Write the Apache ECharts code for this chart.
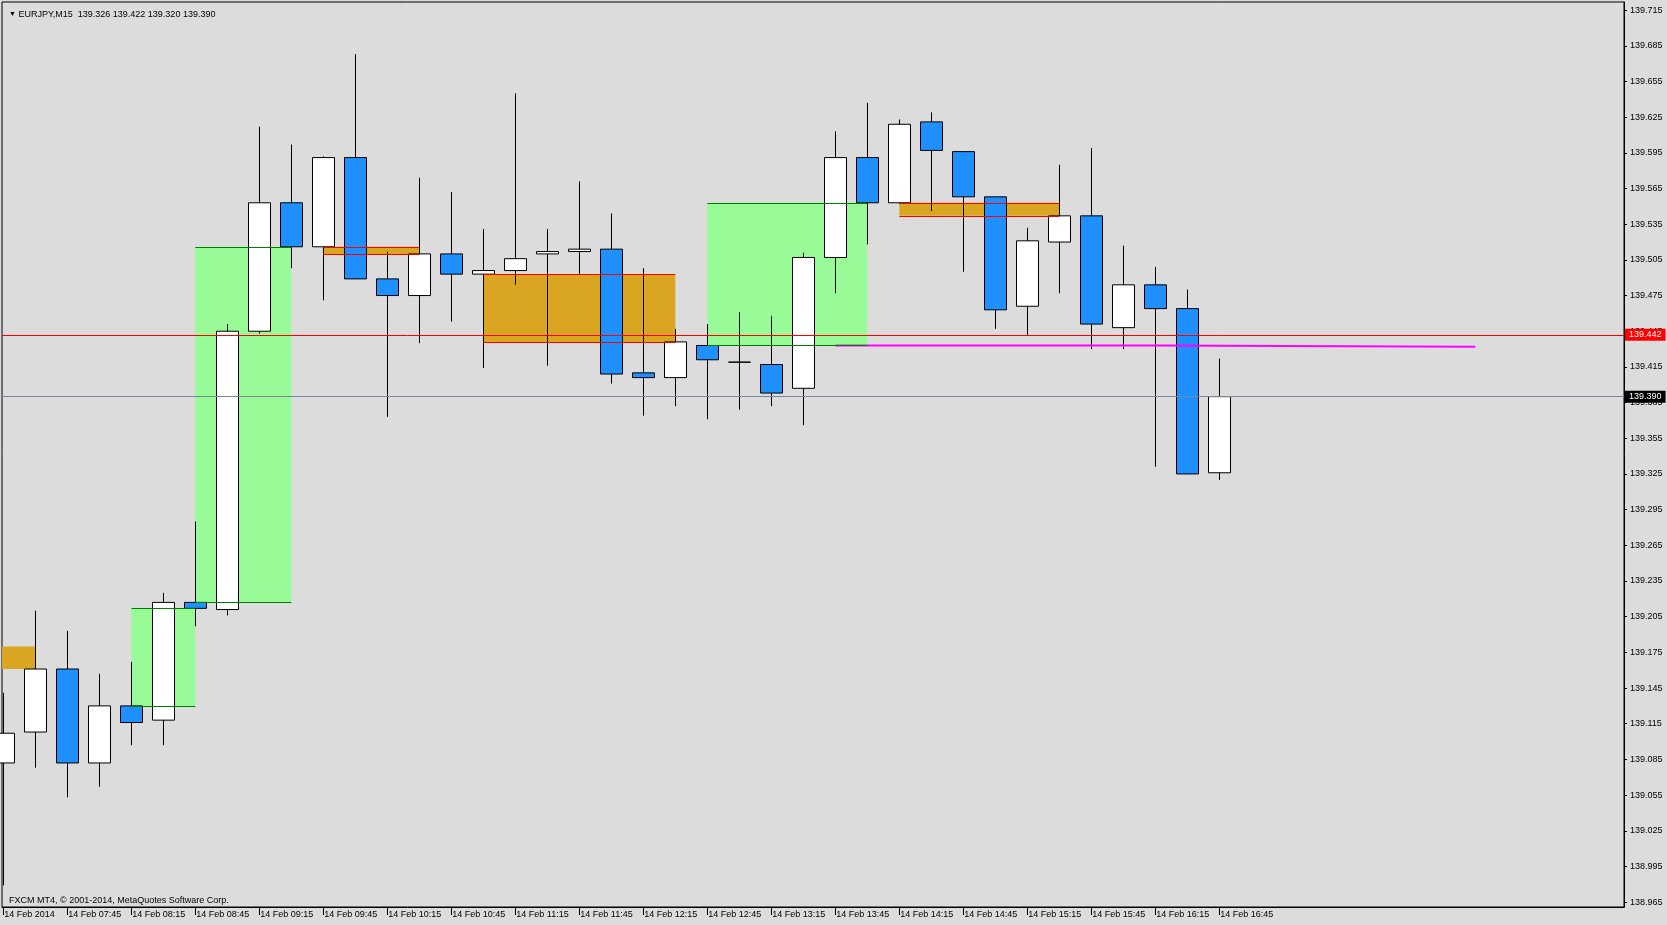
<!DOCTYPE html>
<html><head><meta charset="utf-8">
<script src="https://cdn.jsdelivr.net/npm/echarts@6/dist/echarts.min.js"></script>
<style>html,body{margin:0;padding:0;background:#DCDCDC;}#c{width:1667px;height:925px;}</style>
</head><body><div id="c"></div>
<script>
// ---------- data ----------
const symbolName = 'EURJPY';
const timeframe = 'M15';
const copyrightText = 'FXCM MT4, \u00A9 2001-2014, MetaQuotes Software Corp.';
const barIndex = [0,1,2,3,4,5,6,7,8,9,10,11,12,13,14,15,16,17,18,19,20,21,22,23,24,25,26,27,28,29,30,31,32,33,34,35,36,37,38];
const opens  = [139.082,139.108,139.161,139.082,139.130,139.118,139.217,139.211,139.445,139.553,139.516,139.591,139.489,139.475,139.510,139.493,139.496,139.510,139.512,139.514,139.410,139.406,139.433,139.419,139.417,139.397,139.507,139.591,139.553,139.621,139.596,139.558,139.466,139.520,139.542,139.448,139.484,139.464,139.326];
const highs  = [139.141,139.210,139.193,139.157,139.167,139.225,139.285,139.451,139.617,139.602,139.592,139.678,139.512,139.574,139.562,139.531,139.645,139.531,139.571,139.544,139.498,139.447,139.451,139.461,139.458,139.511,139.613,139.637,139.623,139.629,139.596,139.558,139.532,139.585,139.599,139.517,139.499,139.480,139.422];
const lows   = [138.979,139.078,139.053,139.062,139.097,139.097,139.197,139.206,139.443,139.498,139.471,139.489,139.373,139.435,139.453,139.414,139.484,139.416,139.493,139.401,139.374,139.382,139.371,139.379,139.382,139.366,139.477,139.518,139.552,139.546,139.495,139.447,139.442,139.477,139.430,139.430,139.331,139.325,139.320];
const closes = [139.107,139.161,139.082,139.130,139.116,139.217,139.212,139.445,139.553,139.516,139.591,139.489,139.475,139.510,139.493,139.496,139.506,139.512,139.514,139.409,139.406,139.436,139.421,139.419,139.393,139.507,139.591,139.553,139.619,139.597,139.558,139.463,139.521,139.542,139.451,139.484,139.464,139.325,139.390];

const timeLabelIndex = [0,2,4,6,8,10,12,14,16,18,20,22,24,26,28,30,32,34,36,38];
const timeLabels = ['14 Feb 2014','14 Feb 07:45','14 Feb 08:15','14 Feb 08:45','14 Feb 09:15','14 Feb 09:45','14 Feb 10:15','14 Feb 10:45','14 Feb 11:15','14 Feb 11:45','14 Feb 12:15','14 Feb 12:45','14 Feb 13:15','14 Feb 13:45','14 Feb 14:15','14 Feb 14:45','14 Feb 15:15','14 Feb 15:45','14 Feb 16:15','14 Feb 16:45'];
const priceTicks = [138.965,138.995,139.025,139.055,139.085,139.115,139.145,139.175,139.205,139.235,139.265,139.295,139.325,139.355,139.385,139.415,139.445,139.475,139.505,139.535,139.565,139.595,139.625,139.655,139.685,139.715];

// zones: [startBar, endBar, topPrice, bottomPrice]
const supplyZones = [[-1,1,139.180,139.161],[10,13,139.516,139.510],[15,21,139.493,139.436],[28,33,139.553,139.542]];
const demandZones = [[4,6,139.212,139.130],[6,9,139.516,139.217],[22,27,139.553,139.433]];
const levelPrice = 139.442;
const bidPrice = 139.390;
const magentaPoints = [[26,139.433],[36,139.433],[36,139.432],[46,139.432]];

// ---------- chart ----------
const FONT = 'Liberation Sans, Arial, sans-serif';
const chart = echarts.init(document.getElementById('c'), null, {renderer:'canvas'});
const last = barIndex.length - 1;
const ohlcText = [opens[last], highs[last], lows[last], closes[last]].map(v => v.toFixed(3)).join(' ');

const candleData = barIndex.map((i, k) => [i, opens[k], closes[k], lows[k], highs[k]]);

const areaData = [];
const edgeLines = [];
supplyZones.forEach(z => {
  areaData.push([{coord:[z[0], z[2]], itemStyle:{color:'#DAA520'}}, {coord:[z[1], z[3]]}]);
  edgeLines.push([{coord:[z[0], z[2]], lineStyle:{color:'#FF0000'}}, {coord:[z[1], z[2]]}]);
  edgeLines.push([{coord:[z[0], z[3]], lineStyle:{color:'#FF0000'}}, {coord:[z[1], z[3]]}]);
});
demandZones.forEach(z => {
  areaData.push([{coord:[z[0], z[2]], itemStyle:{color:'#98FB98'}}, {coord:[z[1], z[3]]}]);
  edgeLines.push([{coord:[z[0], z[2]], lineStyle:{color:'#008000'}}, {coord:[z[1], z[2]]}]);
  edgeLines.push([{coord:[z[0], z[3]], lineStyle:{color:'#008000'}}, {coord:[z[1], z[3]]}]);
});

const priceBoxLabel = (bg, v) => ({
  show: true, position: 'end', distance: 1,
  formatter: () => v.toFixed(3),
  color: '#FFFFFF', backgroundColor: bg, padding: [2, 4, 1, 4],
  fontSize: 9, fontFamily: FONT
});

const option = {
  animation: false,
  backgroundColor: '#DCDCDC',
  title: [
    { text: '{tri|\u25BC} ' + symbolName + ',' + timeframe + '  ' + ohlcText, left: 4, top: 5,
      textStyle: { fontSize: 9, fontWeight: 'normal', color: '#000', fontFamily: FONT,
        rich: { tri: { fontSize: 7, color: '#000' } } } },
    { text: copyrightText, left: 4, top: 891,
      textStyle: { fontSize: 9, fontWeight: 'normal', color: '#000', fontFamily: FONT } }
  ],
  grid: { left: 2, right: 43, top: 2, bottom: 18, show: true, borderColor: '#000', borderWidth: 1, backgroundColor: 'transparent' },
  xAxis: {
    type: 'value', min: -0.0406, max: 50.647,
    axisLine: { show: true, onZero: false, lineStyle: { color: '#000', width: 1 } },
    splitLine: { show: false },
    axisTick: { show: true, customValues: timeLabelIndex, length: 8, lineStyle: { color: '#000' } },
    axisLabel: { customValues: timeLabelIndex, formatter: v => timeLabels[timeLabelIndex.indexOf(Math.round(v))],
      align: 'left', margin: 3, padding: [0,0,0,1], fontSize: 9, color: '#000', fontFamily: FONT }
  },
  yAxis: {
    type: 'value', position: 'right', min: 138.9609, max: 139.7218, scale: true,
    axisLine: { show: true, onZero: false, lineStyle: { color: '#000', width: 1 } },
    splitLine: { show: false },
    axisTick: { show: true, customValues: priceTicks, length: 3, lineStyle: { color: '#000' } },
    axisLabel: { customValues: priceTicks, formatter: v => v.toFixed(3), margin: 6, fontSize: 9, color: '#000', fontFamily: FONT }
  },
  series: [
    {
      type: 'line', data: [], z: 1, silent: true,
      markArea: { silent: true, data: areaData },
      markLine: {
        silent: true, symbol: ['none','none'], animation: false, precision: 3,
        lineStyle: { type: 'solid', width: 1 },
        label: { show: false },
        data: edgeLines.concat([
          { yAxis: levelPrice, lineStyle: { color: '#FF0000', type: 'solid', width: 1 }, label: priceBoxLabel('#FF0000', levelPrice) },
          { yAxis: bidPrice, lineStyle: { color: '#778899', type: 'solid', width: 1 }, label: priceBoxLabel('#000000', bidPrice) }
        ])
      }
    },
    {
      type: 'candlestick', z: 2, data: candleData,
      encode: { x: 0, y: [1, 2, 3, 4] },
      barWidth: 23,
      itemStyle: { color: '#FFFFFF', color0: '#1E90FF', borderColor: '#000000', borderColor0: '#000000', borderColorDoji: '#000000', borderWidth: 1 }
    },
    {
      type: 'line', z: 3, data: magentaPoints, symbol: 'none', silent: true,
      lineStyle: { color: '#FF00FF', width: 2 }
    }
  ]
};
chart.setOption(option);
</script>
</body></html>
